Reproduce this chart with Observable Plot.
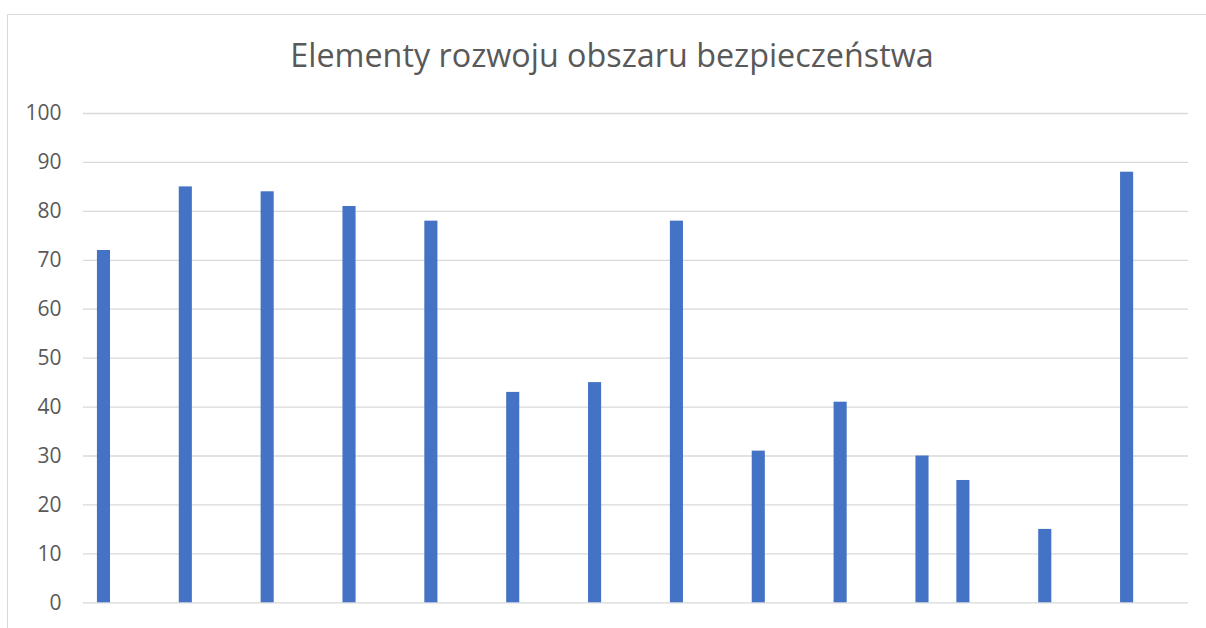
<!DOCTYPE html>
<html>
<head>
<meta charset="utf-8">
<script src="https://cdn.jsdelivr.net/npm/d3@7"></script>
<script src="https://cdn.jsdelivr.net/npm/@observablehq/plot@0.6"></script>
<style>
  html, body { margin: 0; padding: 0; background: #fff; }
  body { width: 1206px; height: 628px; overflow: hidden; position: relative; font-family: "Open Sans", sans-serif; }
  #frame { position: absolute; left: 7px; top: 14px; width: 1220px; height: 640px; border-top: 1px solid #d9d9d9; border-left: 1px solid #d9d9d9; box-sizing: border-box; }
  #title { position: absolute; left: 0; top: 0; width: 1224px; height: 90px; text-align: center; color: #595959; font-size: 32.3px; line-height: 1; padding-top: 38px; box-sizing: border-box; white-space: nowrap; }
  #chart { position: absolute; left: 0; top: 90px; }
</style>
</head>
<body>
<div id="frame"></div>
<div id="title">Elementy rozwoju obszaru bezpieczeństwa</div>
<div id="chart"></div>
<script>
const categories = ["1","2","3","4","5","6","7","8","9","10","11","12","13","14","15","16","17","18","19","20","21","22","23","24","25","26","27"];
const values = [72,null,85,null,84,null,81,null,78,null,43,null,45,null,78,null,31,null,41,null,30,25,null,15,null,88,null];
const yTicks = [0,10,20,30,40,50,60,70,80,90,100];

const data = categories.map((c, i) => ({category: c, value: values[i]})).filter(d => d.value != null);

const plot = Plot.plot({
  width: 1206,
  height: 538,
  marginLeft: 83,
  marginRight: 18,
  marginTop: 23,
  marginBottom: 25.7,
  style: {fontFamily: "Open Sans, sans-serif", fontSize: "21px", color: "#595959", background: "transparent"},
  x: {domain: categories, paddingInner: 0.68, paddingOuter: 0.34, round: false, axis: null},
  y: {domain: [0, 100], ticks: yTicks, label: null},
  marks: [
    Plot.gridY(yTicks, {stroke: "#d9d9d9", strokeOpacity: 1, strokeWidth: 1.3}),
    Plot.axisY(yTicks, {tickSize: 0, tickPadding: 22, label: null, fill: "#595959", fontSize: 21}),
    Plot.barY(data, {x: "category", y1: 0, y2: "value", fill: "#4472C4"})
  ]
});
document.getElementById("chart").appendChild(plot);
</script>
</body>
</html>
